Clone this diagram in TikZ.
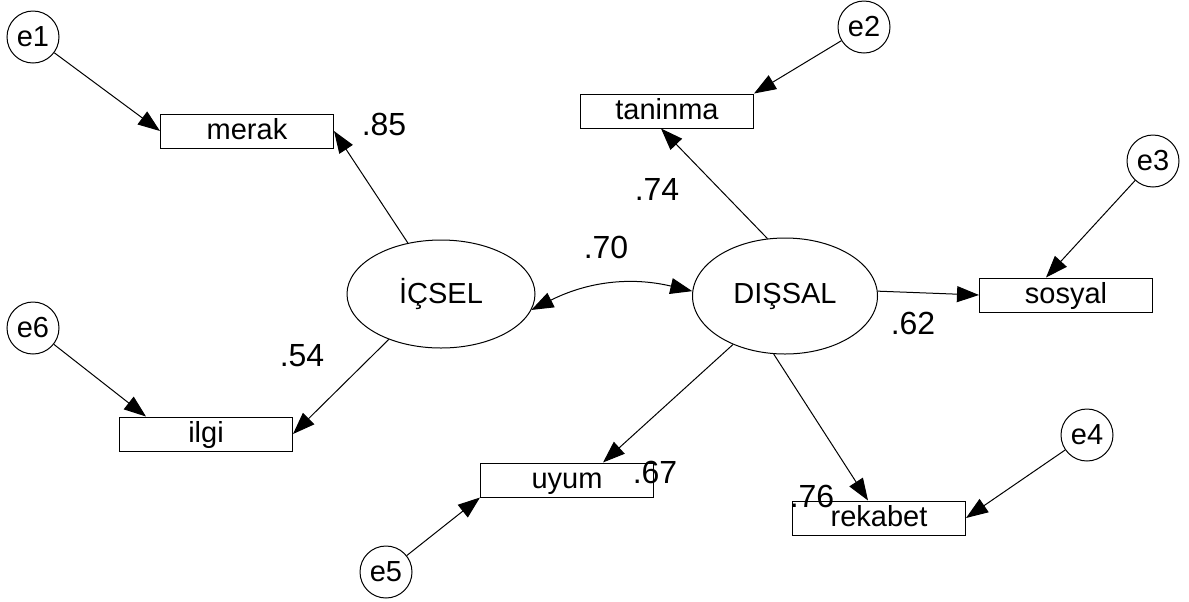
\documentclass[tikz,border=0pt]{standalone}
\usepackage{fontspec}
\setmainfont{Liberation Sans}
\usetikzlibrary{arrows.meta,shapes.geometric}

\begin{document}
\begin{tikzpicture}[
  x=0.5pt,y=-0.5pt,
  >={Triangle[length=11pt,width=8pt]},line width=0.5pt,
  obs/.style={draw,rectangle,minimum width=86.5pt,minimum height=17pt,inner sep=0pt,
    text height=11.5pt,text depth=3pt,font=\fontsize{14.5}{16}\selectfont},
  lat/.style={draw,ellipse,inner sep=0pt,font=\fontsize{14.5}{16}\selectfont},
  err/.style={draw,circle,minimum size=26pt,inner sep=0pt,font=\fontsize{14.5}{16}\selectfont},
  coef/.style={inner sep=0pt,font=\fontsize{16}{18}\selectfont}
]
\useasboundingbox (0,0) rectangle (1189,601);

% latent factors
\node[lat,minimum width=94pt,minimum height=54pt] (icsel) at (441,294) {İÇSEL};
\node[lat,minimum width=92.5pt,minimum height=58pt] (dissal) at (785,296) {DIŞSAL};

% observed variables
\node[obs] (merak) at (247,131) {merak};
\node[obs] (ilgi) at (206,434) {ilgi};
\node[obs] (taninma) at (667,111) {taninma};
\node[obs] (sosyal) at (1066,295) {sosyal};
\node[obs] (uyum) at (567,480) {uyum};
\node[obs] (rekabet) at (879,518) {rekabet};

% error terms
\node[err] (e1) at (33,37) {e1};
\node[err] (e2) at (864,27) {e2};
\node[err] (e3) at (1153,161) {e3};
\node[err] (e4) at (1087,435) {e4};
\node[err] (e5) at (386,572) {e5};
\node[err] (e6) at (33,328) {e6};

% loadings
\draw[->] (icsel.123) -- (merak.east);
\draw[->] (icsel.221) -- (ilgi.east);
\draw[->] (dissal.107) -- ([xshift=-3pt]taninma.south);
\draw[->] (dissal.3) -- (sosyal.west);
\draw[->] (dissal.223) -- ([xshift=18pt]uyum.north);
\draw[->] (dissal.259) -- ([xshift=-5.5pt]rekabet.north);

% errors
\draw[->] (e1) -- (merak.west);
\draw[->] (e6) -- ([xshift=13.5pt]ilgi.north west);
\draw[->] (e2) -- (taninma.north east);
\draw[->] (e3) -- ([xshift=-10pt]sosyal.north);
\draw[->] (e4) -- (rekabet.east);
\draw[->] (e5) -- (uyum.south west);

% covariance
\draw[<->] (icsel.-10) to[bend left=20] (dissal.177);

% estimates
\node[coef] (c85) at (384,124) {.85};
\node[coef] (c54) at (302,356) {.54};
\node[coef] (c74) at (657,189) {.74};
\node[coef] (c70) at (606,247) {.70};
\node[coef] (c62) at (913,323) {.62};
\node[coef] (c67) at (655,472) {.67};
\node[coef] (c76) at (812,496) {.76};
\end{tikzpicture}
\end{document}
